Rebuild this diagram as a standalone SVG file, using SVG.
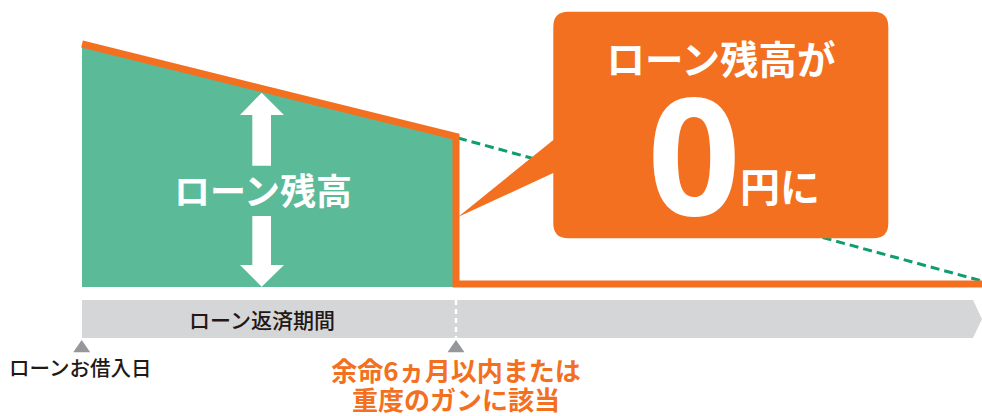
<svg xmlns="http://www.w3.org/2000/svg" width="982" height="416" viewBox="0 0 982 416">
  <style>
    .jp { font-family: "Noto Sans CJK JP", "Noto Sans", sans-serif; }
    .wb { fill: #ffffff; font-weight: 700; }
    .dark { fill: #231815; font-weight: 500; }
    .or { fill: #f37021; font-weight: 700; }
    .tri { fill: #96979a; }
  </style>
  <rect width="982" height="416" fill="#ffffff"/>

  <g id="connectors">
    <line id="projection" x1="458" y1="138" x2="982" y2="281" stroke="#0e9d6e" stroke-width="3" stroke-dasharray="9 5"/>
  </g>

  <g id="balance-area">
    <polygon points="82,46 456,138 456,287 82,287" fill="#5bba98"/>
    <polygon points="261.7,92.7 284,115 271,115 271,165.7 252.3,165.7 252.3,115 240,115" fill="#ffffff"/>
    <polygon points="261.7,286.7 284,265 271,265 271,216 252.3,216 252.3,265 240,265" fill="#ffffff"/>
    <text class="jp wb" x="263" y="205" font-size="36" text-anchor="middle">ローン残高</text>
  </g>

  <g id="balance-line">
    <polyline points="82,44 456,136.5 456,284 982,284" fill="none" stroke="#f37021" stroke-width="7" stroke-linejoin="miter"/>
  </g>

  <g id="callout">
    <path d="M568,11.7 H873.3 Q888.3,11.7 888.3,26.7 V223.3 Q888.3,238.3 873.3,238.3 H568.3 Q553.3,238.3 553.3,223.3 V173 L458,217 L553.3,140 V26.7 Q553.3,11.7 568.3,11.7 Z" fill="#f37021"/>
    <text class="jp wb" x="721" y="74" font-size="38.5" text-anchor="middle">ローン残高が</text>
    <text x="694" y="215" font-size="163" text-anchor="middle" font-family="'Noto Sans', 'Liberation Sans', sans-serif" font-weight="700" fill="#ffffff">0</text>
    <text class="jp wb" x="740" y="202" font-size="40">円に</text>
  </g>

  <g id="period-bar">
    <polygon points="82,300 973,300 982,319 973,338 82,338" fill="#d5d6d8"/>
    <line x1="456" y1="300" x2="456" y2="338" stroke="#ffffff" stroke-width="2.5" stroke-dasharray="5 4"/>
    <text class="jp dark" x="262" y="328" font-size="21" text-anchor="middle">ローン返済期間</text>
  </g>

  <g id="start-marker">
    <polygon class="tri" points="81.7,340 90.2,352.3 73.2,352.3"/>
    <text class="jp dark" x="9" y="376" font-size="20.5">ローンお借入日</text>
  </g>

  <g id="event-marker">
    <polygon class="tri" points="456,340 464.5,352.3 447.5,352.3"/>
    <text class="jp or" x="456" y="380.5" font-size="26" text-anchor="middle">余命6ヵ月以内または</text>
    <text class="jp or" x="456" y="410" font-size="26" text-anchor="middle">重度のガンに該当</text>
  </g>
</svg>
